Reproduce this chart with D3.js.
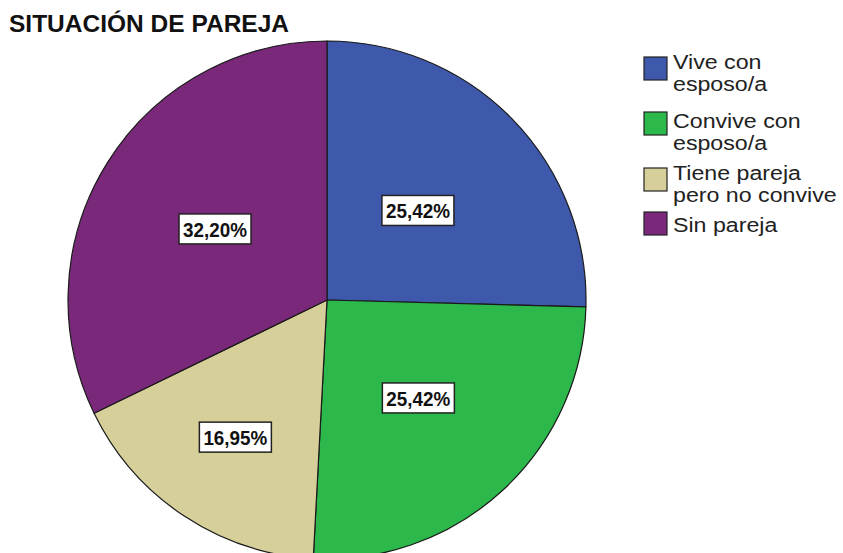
<!DOCTYPE html>
<html><head><meta charset="utf-8">
<script src="https://cdn.jsdelivr.net/npm/d3@7"></script>
<style>body{margin:0;background:#fff}svg{display:block}</style>
</head><body>
<svg id="c" width="843" height="553"></svg>
<script>
const categories = ["Vive con esposo/a", "Convive con esposo/a", "Tiene pareja pero no convive", "Sin pareja"];
const legendLines = [["Vive con", "esposo/a"], ["Convive con", "esposo/a"], ["Tiene pareja", "pero no convive"], ["Sin pareja"]];
const values = [25.42, 25.42, 16.95, 32.20];
const labels = ["25,42%", "25,42%", "16,95%", "32,20%"];
const colors = ["#3E58AC", "#2CB84B", "#D6CF99", "#7A297A"];
const labelRadiusFrac = [0.49, 0.52, 0.64, 0.51];

const svg = d3.select("#c");
const cx = 327, cy = 300, r = 259;

svg.append("text").attr("x", 9).attr("y", 32)
  .attr("font-family", "Arial, 'Liberation Sans', sans-serif")
  .attr("font-weight", "bold").attr("font-size", 24)
  .attr("textLength", 280).attr("lengthAdjust", "spacingAndGlyphs")
  .attr("fill", "#111").text("SITUACIÓN DE PAREJA");

const pie = d3.pie().sort(null).value(d => d)(values);
const arc = d3.arc().innerRadius(0).outerRadius(r);
const g = svg.append("g").attr("transform", `translate(${cx},${cy})`);
g.selectAll("path").data(pie).join("path")
  .attr("d", arc).attr("fill", (d, i) => colors[i])
  .attr("stroke", "#1a1a1a").attr("stroke-width", 1.2).attr("stroke-linejoin", "round");

pie.forEach((d, i) => {
  const a = (d.startAngle + d.endAngle) / 2;
  const rr = r * labelRadiusFrac[i];
  const x = Math.sin(a) * rr, y = -Math.cos(a) * rr;
  const lg = g.append("g").attr("transform", `translate(${x},${y})`);
  lg.append("rect").attr("x", -36).attr("y", -16).attr("width", 72).attr("height", 30)
    .attr("fill", "#fff").attr("stroke", "#222").attr("stroke-width", 1.5);
  lg.append("text").attr("x", -32).attr("y", 7)
    .attr("font-family", "Arial, 'Liberation Sans', sans-serif")
    .attr("font-weight", "bold").attr("font-size", 20).attr("fill", "#111")
    .attr("textLength", 64).attr("lengthAdjust", "spacingAndGlyphs").text(labels[i]);
});

const leg = svg.append("g");
const boxY = [57, 112, 168, 212];
const baseY = [69, 128, 180, 232];
categories.forEach((c, i) => {
  leg.append("rect").attr("x", 644).attr("y", boxY[i]).attr("width", 23).attr("height", 23)
    .attr("fill", colors[i]).attr("stroke", "#222").attr("stroke-width", 1.2);
  const t = leg.append("text")
    .attr("transform", `translate(673,${baseY[i]}) scale(1.16,1)`)
    .attr("font-family", "Arial, 'Liberation Sans', sans-serif").attr("font-size", 20)
    .attr("fill", "#222");
  legendLines[i].forEach((ln, j) => {
    t.append("tspan").attr("x", 0).attr("y", j * 22.5).text(ln);
  });
});
</script>
</body></html>
